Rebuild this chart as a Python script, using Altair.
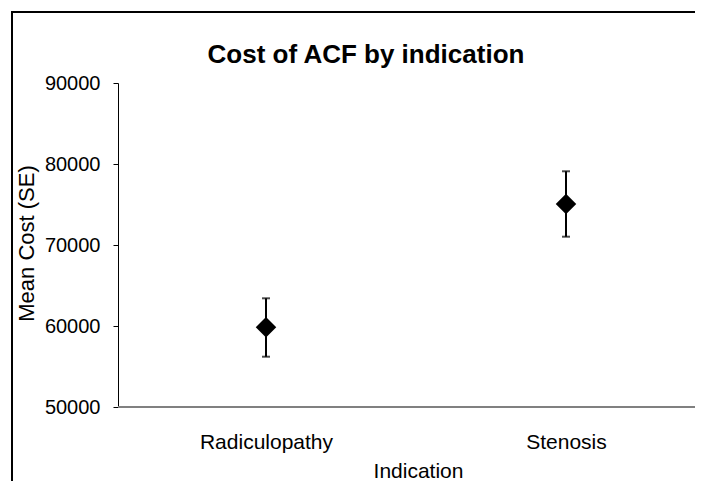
import altair as alt
import pandas as pd

categories = ["Radiculopathy", "Stenosis"]
means = [59840, 75060]
lowers = [56210, 71025]
uppers = [63420, 79100]
y_ticks = [50000, 60000, 70000, 80000, 90000]
title_text = "Cost of ACF by indication"

df = pd.DataFrame({"Indication": categories, "mean": means, "lo": lowers, "hi": uppers})

W, H = 577, 324
FONT = "Liberation Sans"

x_enc = alt.X(
    "Indication:N",
    sort=categories,
    scale=alt.Scale(type="point", range=[148, 448], padding=0),
    axis=alt.Axis(
        title="Indication", ticks=False, tickSize=0, labelPadding=41, domain=False,
        labelBaseline="alphabetic", labelFontSize=21, labelFont=FONT, labelColor="black",
        labelAngle=0,
        titleFont=FONT, titleFontSize=21, titleFontWeight="normal", titleColor="black",
        titleX=300, titleY=70, titleBaseline="alphabetic", titleAlign="center",
        grid=False,
    ),
)

y_scale = alt.Scale(domain=[50000, 90000], nice=False, zero=False)
y_axis = alt.Axis(
    title="Mean Cost (SE)", values=y_ticks, format="d", grid=False,
    tickSize=5, tickColor="black", tickWidth=1, labelPadding=13,
    labelFontSize=20, labelFont=FONT, labelColor="black",
    domainColor="black", domainWidth=1,
    titleFont=FONT, titleFontSize=22, titleFontWeight="normal", titleColor="black",
    titleAngle=270, titleX=-85, titleY=160, titleBaseline="alphabetic", titleAlign="center",
)

base = alt.Chart(df)
one = alt.Chart(pd.DataFrame({"t": [title_text]}))

bars = base.mark_rule(color="black", strokeWidth=2).encode(
    x=x_enc, y=alt.Y("lo:Q", scale=y_scale, axis=y_axis), y2="hi:Q"
)
cap_lo = base.mark_tick(color="black", orient="horizontal", size=8, thickness=2).encode(
    x=x_enc, y=alt.Y("lo:Q", scale=y_scale)
)
cap_hi = base.mark_tick(color="black", orient="horizontal", size=8, thickness=2).encode(
    x=x_enc, y=alt.Y("hi:Q", scale=y_scale)
)
points = base.mark_point(shape="diamond", filled=True, color="black", size=420, opacity=1).encode(
    x=x_enc, y=alt.Y("mean:Q", scale=y_scale)
)

xdomain = one.mark_rule(color="#808080", strokeWidth=2).encode(
    x=alt.value(0), x2=alt.value(W), y=alt.value(H)
)

border = one.mark_rect(fill="transparent", stroke="black", strokeWidth=2).encode(
    x=alt.value(-106), x2=alt.value(W + 200), y=alt.value(-71), y2=alt.value(H + 300)
)

title = one.mark_text(
    font=FONT, fontSize=26, fontWeight="bold", color="black",
    align="center", baseline="alphabetic",
).encode(text="t:N", x=alt.value(248), y=alt.value(-20))

chart = alt.layer(border, xdomain, bars, cap_lo, cap_hi, points, title).properties(
    width=W, height=H,
    autosize=alt.AutoSizeParams(type="none"),
    padding={"left": 110, "top": 75, "right": 0, "bottom": 74},
    background="white",
).configure_view(stroke=None)

chart.save("out.html", embed_options={"renderer": "svg", "actions": False})
